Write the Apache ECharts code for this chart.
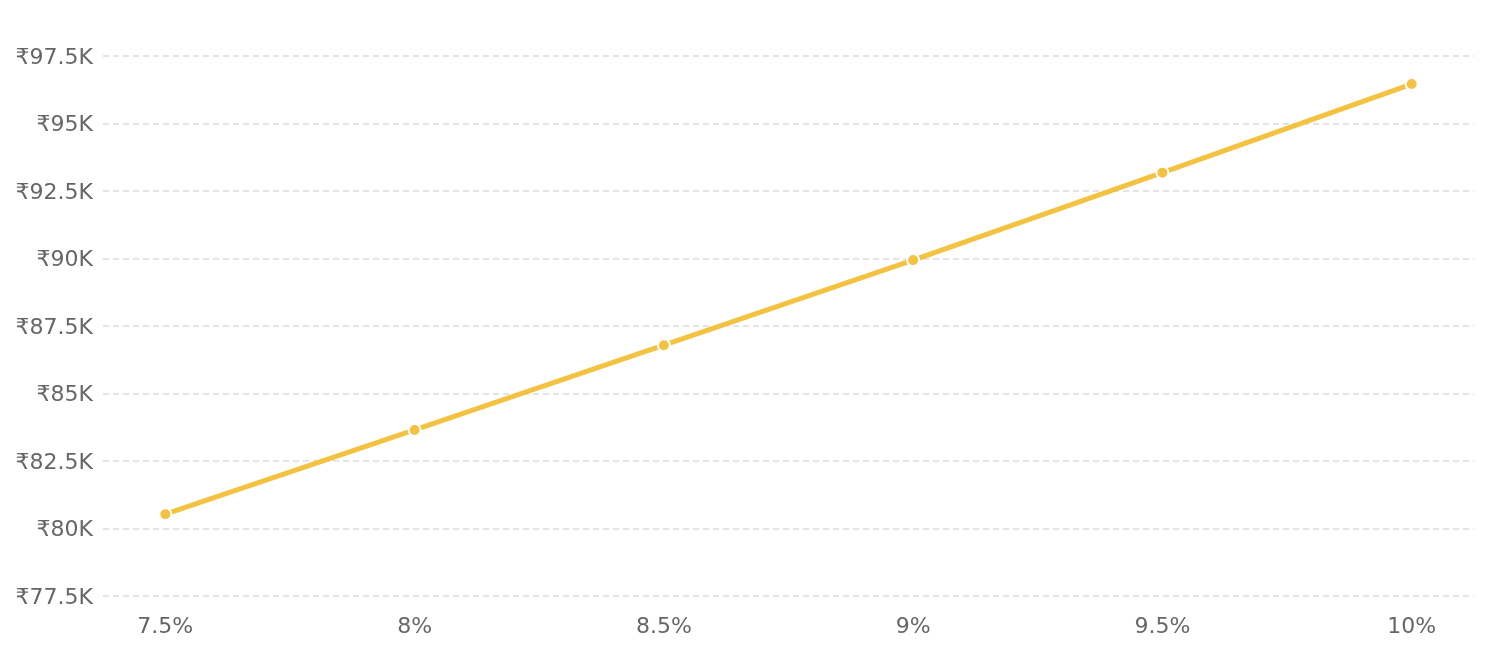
<!DOCTYPE html>
<html>
<head>
<meta charset="utf-8">
<script src="https://cdn.jsdelivr.net/npm/echarts@6/dist/echarts.min.js"></script>
<style>
  html, body { margin: 0; padding: 0; background: #fff; }
  #chart { width: 1488px; height: 653px; }
</style>
</head>
<body>
<div id="chart"></div>
<script>
// interest rates (%)
var rates = [7.5, 8, 8.5, 9, 9.5, 10];
// amount in rupees
var amounts = [80530, 83650, 86790, 89940, 93180, 96460];
// y axis ticks
var yTicks = [77500, 80000, 82500, 85000, 87500, 90000, 92500, 95000, 97500];

var chart = echarts.init(document.getElementById("chart"));

function fmtK(v) {
    return "{t|₹" + (v / 1000) + "K}";
}

var option = {
    animation: false,
    textStyle: { fontFamily: "DejaVu Sans" },
    grid: {
        left: 103,
        right: 14,
        top: 56,
        bottom: 57
    },
    xAxis: {
        type: "value",
        min: 7.375,
        max: 10.125,
        axisLine: { show: false },
        axisTick: { show: false },
        splitLine: { show: false },
        axisLabel: {
            customValues: rates,
            color: "#666",
            fontSize: 22,
            margin: 20,
            formatter: function(v) { return v + "%"; }
        }
    },
    yAxis: {
        type: "value",
        min: yTicks[0],
        max: yTicks[yTicks.length - 1],
        interval: 2500,
        axisLine: { show: false },
        axisTick: { show: false },
        axisLabel: {
            color: "#666",
            fontSize: 22,
            margin: 10,
            formatter: fmtK,
            rich: {
                t: { color: "#666", fontSize: 22, padding: [4, 0, 0, 0] }
            }
        },
        splitLine: {
            lineStyle: { color: "#e3e3e8", type: [6, 4], width: 2 }
        }
    },
    series: [{
        type: "line",
        data: rates.map(function(r, i) { return [r, amounts[i]]; }),
        symbol: "circle",
        symbolSize: 12,
        lineStyle: { color: "#f2c240", width: 5 },
        itemStyle: { color: "#f2c240", borderColor: "#fff", borderWidth: 2 }
    }]
};

chart.setOption(option);
window.addEventListener("resize", function() {
    chart.resize();
});
</script>
</body>
</html>
